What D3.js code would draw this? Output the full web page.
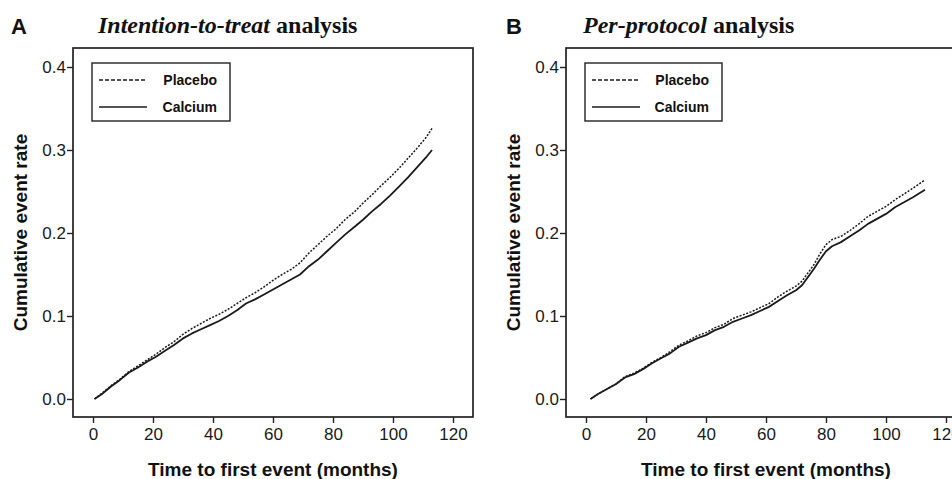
<!DOCTYPE html>
<html>
<head>
<meta charset="utf-8">
<script src="https://cdn.jsdelivr.net/npm/d3@7"></script>
<style>
  body { margin: 0; background: #fff; }
  svg { display: block; }
  .tick text { font-family: "Liberation Sans", Arial, sans-serif; font-size: 17px; fill: #1a1a1a; }
  .tick line { stroke: #222; stroke-width: 1.4; }
  .frame { fill: none; stroke: #222; stroke-width: 1.7; }
  .axis-title { font-family: "Liberation Sans", Arial, sans-serif; font-weight: bold; font-size: 19px; fill: #111; }
  .legend text { font-family: "Liberation Sans", Arial, sans-serif; font-weight: bold; font-size: 14px; fill: #111; }
  .curve { fill: none; stroke: #1a1a1a; stroke-linejoin: round; }
</style>
</head>
<body>
<div id="chart"></div>
<script>

// months on the x axis, cumulative event rate on the y axis
var xTicks = [0, 20, 40, 60, 80, 100, 120];
var yTicks = [0.0, 0.1, 0.2, 0.3, 0.4];
var seriesNames = ['Placebo', 'Calcium'];

// A: intention-to-treat
var ittMonths = [0.5, 3, 6, 9, 12, 15, 18, 21, 24, 27, 30, 33, 36, 39, 42, 45, 48, 51, 54, 57,
  60, 63, 66, 69, 72, 75, 78, 81, 84, 87, 90, 93, 96, 99, 102, 105, 108, 111, 113];
var ittPlacebo = [0, 0.007, 0.016, 0.024, 0.033, 0.040, 0.047, 0.054, 0.062, 0.069, 0.078, 0.085,
  0.091, 0.097, 0.102, 0.108, 0.115, 0.122, 0.128, 0.135, 0.143, 0.150, 0.156, 0.164, 0.176,
  0.186, 0.196, 0.205, 0.216, 0.225, 0.236, 0.246, 0.257, 0.267, 0.278, 0.290, 0.302, 0.315, 0.326];
var ittCalcium = [0, 0.006, 0.015, 0.023, 0.032, 0.038, 0.045, 0.051, 0.058, 0.065, 0.073, 0.079,
  0.084, 0.089, 0.094, 0.100, 0.107, 0.115, 0.120, 0.126, 0.132, 0.138, 0.144, 0.150, 0.160,
  0.168, 0.178, 0.188, 0.198, 0.207, 0.216, 0.226, 0.235, 0.245, 0.256, 0.267, 0.279, 0.291, 0.300];

// B: per-protocol
var ppMonths = [1.5, 4, 7, 10, 13, 16, 19, 22, 25, 28, 31, 34, 37, 40, 43, 46, 49, 52, 55, 58,
  61, 64, 67, 70, 72, 74, 76, 78, 80, 82, 85, 88, 91, 94, 97, 100, 103, 106, 109, 113];
var ppPlacebo = [0, 0.006, 0.012, 0.018, 0.027, 0.031, 0.037, 0.044, 0.050, 0.057, 0.065, 0.070,
  0.076, 0.080, 0.086, 0.090, 0.097, 0.101, 0.105, 0.110, 0.115, 0.123, 0.130, 0.136, 0.142,
  0.152, 0.162, 0.175, 0.186, 0.192, 0.196, 0.203, 0.211, 0.220, 0.226, 0.232, 0.240, 0.247, 0.254, 0.264];
var ppCalcium = [0, 0.006, 0.012, 0.018, 0.026, 0.030, 0.036, 0.043, 0.049, 0.055, 0.063, 0.068,
  0.073, 0.077, 0.083, 0.087, 0.093, 0.097, 0.101, 0.106, 0.111, 0.118, 0.125, 0.131, 0.137,
  0.147, 0.157, 0.168, 0.178, 0.184, 0.189, 0.196, 0.203, 0.211, 0.217, 0.223, 0.231, 0.237, 0.243, 0.252];

var W = 952, H = 479;

var svg = d3.select('#chart').append('svg')
  .attr('width', W)
  .attr('height', H);

var Panel = function(opts) {

  var that = this;

  that.left = opts.left;
  that.top = 48;
  that.width = 400;
  that.height = 369;

  that.x = d3.scaleLinear().domain([0, 120]).range([20, 380]);
  that.y = d3.scaleLinear().domain([0, 0.4]).range([351, 19]);

  that.g = svg.append('g')
    .attr('transform', 'translate(' + that.left + ',' + that.top + ')');

  // letter + title
  svg.append('text')
    .attr('x', opts.letterX)
    .attr('y', 34)
    .style('font-family', '"Liberation Sans", Arial, sans-serif')
    .style('font-weight', 'bold')
    .style('font-size', '22px')
    .style('fill', '#111')
    .text(opts.letter);

  var title = svg.append('text')
    .attr('x', opts.titleX)
    .attr('y', 33)
    .style('font-family', '"Liberation Serif", "Times New Roman", serif')
    .style('font-weight', 'bold')
    .style('font-size', '24px')
    .style('fill', '#111');
  title.append('tspan').style('font-style', 'italic').text(opts.titleItalic);
  title.append('tspan').text(' analysis');

  // axes
  that.g.append('g')
    .attr('class', 'y axis')
    .call(d3.axisLeft(that.y).tickValues(yTicks).tickSize(6).tickPadding(1).tickFormat(d3.format('.1f')))
    .call(function(g) { g.select('.domain').remove(); });

  that.g.append('g')
    .attr('class', 'x axis')
    .attr('transform', 'translate(0,' + that.height + ')')
    .call(d3.axisBottom(that.x).tickValues(xTicks).tickSize(6).tickPadding(5))
    .call(function(g) { g.select('.domain').remove(); });

  that.g.selectAll('.tick text').attr('font-family', null).attr('font-size', null);

  that.g.append('rect')
    .attr('class', 'frame')
    .attr('width', that.width)
    .attr('height', that.height);

  // axis titles
  that.g.append('text')
    .attr('class', 'axis-title')
    .attr('x', that.width / 2)
    .attr('y', that.height + 59)
    .attr('text-anchor', 'middle')
    .text('Time to first event (months)');

  that.g.append('text')
    .attr('class', 'axis-title')
    .attr('transform', 'translate(' + opts.yTitleX + ',' + (that.height / 2) + ') rotate(-90)')
    .attr('text-anchor', 'middle')
    .text('Cumulative event rate');

  // curves
  var line = d3.line()
    .x(function(d) { return that.x(d[0]); })
    .y(function(d) { return that.y(d[1]); });

  that.g.append('path')
    .datum(d3.zip(opts.months, opts.placebo))
    .attr('class', 'curve placebo')
    .attr('stroke-width', 1.5)
    .attr('stroke-dasharray', '2,1.5')
    .attr('d', line);

  that.g.append('path')
    .datum(d3.zip(opts.months, opts.calcium))
    .attr('class', 'curve calcium')
    .attr('stroke-width', 1.8)
    .attr('d', line);

  // legend
  var lg = that.g.append('g')
    .attr('class', 'legend')
    .attr('transform', 'translate(' + opts.legendX + ',15)');

  lg.append('rect')
    .attr('width', opts.legendW)
    .attr('height', 58)
    .attr('fill', '#fff')
    .attr('stroke', '#222')
    .attr('stroke-width', 1.4);

  seriesNames.forEach(function(name, i) {
    var ly = 17 + i * 27;
    lg.append('line')
      .attr('x1', 7).attr('x2', 55)
      .attr('y1', ly).attr('y2', ly)
      .attr('stroke', '#1a1a1a')
      .attr('stroke-width', i === 0 ? 1.3 : 1.7)
      .attr('stroke-dasharray', i === 0 ? '4,2' : null);
    lg.append('text')
      .attr('x', opts.legendW - 13)
      .attr('y', ly + 5)
      .attr('text-anchor', 'end')
      .text(name);
  });

  return that;
};

new Panel({
  left: 73, letter: 'A', letterX: 11, titleX: 98,
  titleItalic: 'Intention-to-treat', yTitleX: -46,
  months: ittMonths, placebo: ittPlacebo, calcium: ittCalcium,
  legendX: 19, legendW: 138
});

new Panel({
  left: 566, letter: 'B', letterX: 506, titleX: 583,
  titleItalic: 'Per-protocol', yTitleX: -46,
  months: ppMonths, placebo: ppPlacebo, calcium: ppCalcium,
  legendX: 19, legendW: 137
});

</script>
</body>
</html>
